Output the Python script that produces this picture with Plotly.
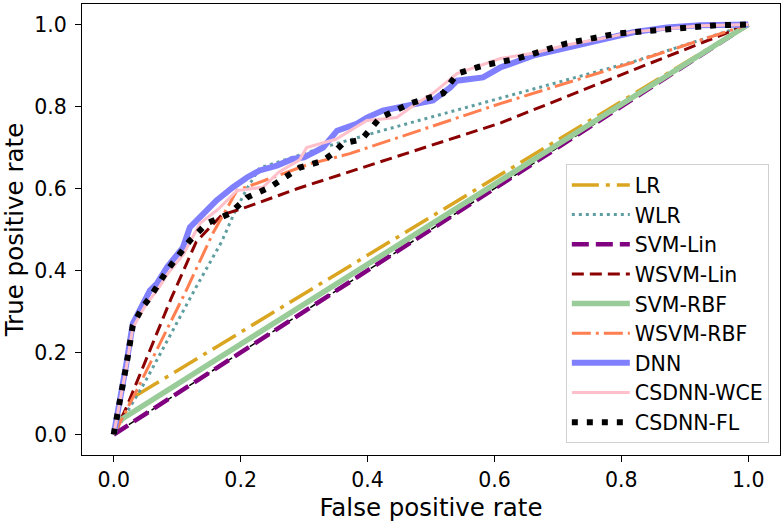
import plotly.graph_objects as go

# ---- data ----
lr_fpr = [0.0, 0.03, 1.0]
lr_tpr = [0.0, 0.09, 1.0]

wlr_fpr = [0.0, 0.05, 0.13, 0.17, 0.19, 0.21, 0.23, 0.28, 0.33, 0.42, 0.61, 0.82, 1.0]
wlr_tpr = [0.0, 0.13, 0.36, 0.47, 0.54, 0.60, 0.65, 0.675, 0.70, 0.74, 0.82, 0.91, 1.0]

svml_fpr = [0.0, 1.0]
svml_tpr = [0.0, 1.0]

wsvml_fpr = [0.0, 0.02, 0.09, 0.13, 0.17, 0.21, 0.29, 0.61, 0.82, 1.0]
wsvml_tpr = [0.0, 0.066, 0.33, 0.47, 0.535, 0.555, 0.60, 0.76, 0.89, 1.0]

svmr_fpr = [0.0, 0.005, 1.0]
svmr_tpr = [0.0, 0.03, 1.0]

wsvmr_fpr = [0.0, 0.036, 0.112, 0.156, 0.194, 0.225, 0.309, 0.372, 0.435, 0.609, 0.819, 1.0]
wsvmr_tpr = [0.0, 0.107, 0.344, 0.49, 0.595, 0.612, 0.66, 0.685, 0.717, 0.807, 0.908, 1.0]

dnn_fpr = [0.0, 0.005, 0.009, 0.02, 0.03, 0.049, 0.057, 0.068, 0.084, 0.109, 0.12, 0.136,
           0.162, 0.188, 0.21, 0.23, 0.257, 0.282, 0.30, 0.33, 0.345, 0.352, 0.383, 0.399,
           0.424, 0.451, 0.503, 0.53, 0.541, 0.582, 0.609, 0.661, 0.714, 0.767, 0.819,
           0.872, 0.924, 1.0]
dnn_tpr = [0.0, 0.04, 0.083, 0.173, 0.27, 0.327, 0.351, 0.368, 0.408, 0.456, 0.505, 0.53,
           0.571, 0.603, 0.627, 0.644, 0.656, 0.672, 0.676, 0.70, 0.725, 0.741, 0.758, 0.773,
           0.79, 0.798, 0.815, 0.846, 0.863, 0.871, 0.895, 0.924, 0.944, 0.961, 0.981,
           0.993, 0.998, 1.0]

wce_fpr = [0.0, 0.005, 0.01, 0.02, 0.03, 0.05, 0.07, 0.084, 0.11, 0.136, 0.165, 0.194,
           0.235, 0.26, 0.293, 0.304, 0.35, 0.399, 0.446, 0.47, 0.503, 0.541, 0.609,
           0.66, 0.714, 0.767, 0.819, 0.872, 0.924, 1.0]
wce_tpr = [0.0, 0.04, 0.08, 0.165, 0.26, 0.315, 0.355, 0.39, 0.44, 0.515, 0.55, 0.595,
           0.603, 0.64, 0.67, 0.70, 0.72, 0.766, 0.773, 0.80, 0.832, 0.88, 0.917,
           0.93, 0.95, 0.965, 0.982, 0.99, 0.997, 1.0]

fl_fpr = [0.0, 0.005, 0.01, 0.02, 0.03, 0.045, 0.057, 0.084, 0.12, 0.147, 0.183, 0.21,
          0.246, 0.278, 0.293, 0.33, 0.345, 0.361, 0.383, 0.393, 0.42, 0.467, 0.519,
          0.541, 0.582, 0.636, 0.688, 0.714, 0.793, 0.845, 0.95, 1.0]
fl_tpr = [0.0, 0.04, 0.08, 0.17, 0.265, 0.31, 0.334, 0.40, 0.473, 0.515, 0.539, 0.578,
          0.603, 0.637, 0.651, 0.668, 0.685, 0.71, 0.717, 0.724, 0.773, 0.807, 0.832,
          0.88, 0.90, 0.917, 0.944, 0.954, 0.978, 0.985, 0.998, 1.0]

chance_x = [0.0, 1.0]
chance_y = [0.0, 1.0]

x_ticks = [0.0, 0.2, 0.4, 0.6, 0.8, 1.0]
y_ticks = [0.0, 0.2, 0.4, 0.6, 0.8, 1.0]
tick_text = ["0.0", "0.2", "0.4", "0.6", "0.8", "1.0"]

series = [
    ("LR", lr_fpr, lr_tpr, "#DAA520", 3.5, "27px,7px,4px,7px"),
    ("WLR", wlr_fpr, wlr_tpr, "#5F9EA0", 3, "3px,4px"),
    ("SVM-Lin", svml_fpr, svml_tpr, "#800080", 4.5, "17px,7px"),
    ("WSVM-Lin", wsvml_fpr, wsvml_tpr, "#8B0000", 3, "12px,6px"),
    ("SVM-RBF", svmr_fpr, svmr_tpr, "#99CC99", 5.5, "solid"),
    ("WSVM-RBF", wsvmr_fpr, wsvmr_tpr, "#FF7F50", 3, "19px,5px,3px,5px"),
    ("DNN", dnn_fpr, dnn_tpr, "#8080FF", 6, "solid"),
    ("CSDNN-WCE", wce_fpr, wce_tpr, "#FFC0CB", 3, "solid"),
    ("CSDNN-FL", fl_fpr, fl_tpr, "#000000", 6, "6px,9px"),
]

fig = go.Figure()
fig.add_trace(go.Scatter(x=chance_x, y=chance_y, mode="lines", showlegend=False,
                         line=dict(color="black", width=1.5, dash="6px,3px"),
                         hoverinfo="skip"))
for name, xs, ys, color, width, dash in series:
    fig.add_trace(go.Scatter(x=xs, y=ys, mode="lines", name=name,
                             line=dict(color=color, width=width, dash=dash)))

axis_common = dict(
    range=[-0.05, 1.05], showgrid=False, zeroline=False, showline=True, mirror=True,
    linecolor="black", linewidth=1.2, ticks="outside", ticklen=6, tickwidth=1.2,
    tickcolor="black", tickfont=dict(size=20.5, color="black"),
    tickvals=x_ticks, ticktext=tick_text,
)

fig.update_layout(
    width=784, height=527,
    margin=dict(l=82, r=4, t=4, b=72),
    paper_bgcolor="white", plot_bgcolor="white",
    font=dict(family="DejaVu Sans", color="black"),
    xaxis=dict(axis_common, title=dict(text="False positive rate", font=dict(size=24.5), standoff=8)),
    yaxis=dict(axis_common, tickvals=y_ticks, ticklabelstandoff=4,
               title=dict(text="True positive rate", font=dict(size=24.5), standoff=6)),
    legend=dict(x=0.984, y=0.645, xanchor="right", yanchor="top",
                bgcolor="white", bordercolor="#D0D0D0", borderwidth=1,
                font=dict(size=20.5), itemwidth=58),
    showlegend=True,
)

fig.write_html("out.html", config={"displayModeBar": False},
               post_script="document.body.style.margin='0';document.body.style.overflow='hidden';")
